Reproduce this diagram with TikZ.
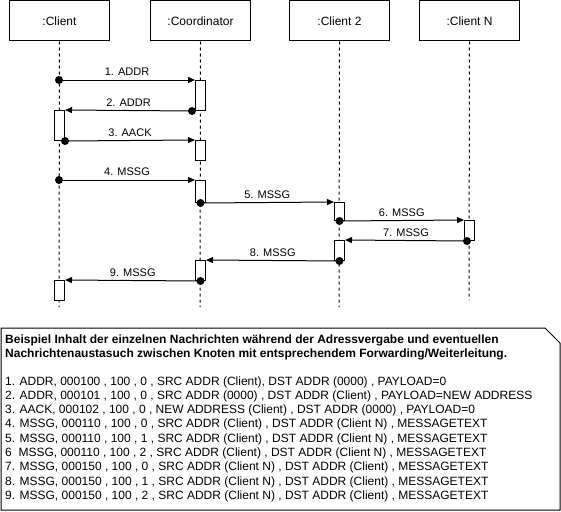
\documentclass[tikz,border=0pt]{standalone}
\usepackage{fontspec}
\setmainfont{Liberation Sans}
\usetikzlibrary{arrows.meta}
\begin{document}
\begin{tikzpicture}[x=1pt,y=-1pt,
  head/.style={draw,line width=1pt,minimum width=100pt,minimum height=40pt,inner sep=0pt,font=\fontsize{12}{14}\selectfont,anchor=north west},
  life/.style={line width=1pt,dash pattern=on 3pt off 3pt},
  act/.style={draw,fill=white,line width=1pt,minimum width=10pt,inner sep=0pt,anchor=north west},
  msg/.style={line width=1pt,-{Triangle[length=7pt,width=6pt]}},
  lbl/.style={font=\fontsize{11}{13}\selectfont,inner sep=0pt,yshift=8pt},
  dot/.style={fill=black}
]
\useasboundingbox (0,0) rectangle (561,511);
% headers
\node[head] (cl) at (9,0.5) {:Client};
\node[head] (co) at (150,0.5) {:Coordinator};
\node[head] (c2) at (289,0.5) {:Client 2};
\node[head] (cn) at (419,0.5) {:Client N};
% lifeline ends
\coordinate (clE) at (59,307);
\coordinate (coE) at (200,307);
\coordinate (c2E) at (339,307);
\coordinate (cnE) at (469,300);
\draw[life] (cl.south) -- (clE);
\draw[life] (co.south) -- (coE);
\draw[life] (c2.south) -- (c2E);
\draw[life] (cn.south) -- (cnE);
% activations
\node[act,minimum height=30pt] (A1) at (195,80) {};
\node[act,minimum height=30pt] (C1) at (54,110) {};
\node[act,minimum height=20pt] (A2) at (195,140) {};
\node[act,minimum height=22pt] (A3) at (195,180) {};
\node[act,minimum height=18pt] (B1) at (334,202) {};
\node[act,minimum height=20pt] (N1) at (464,220) {};
\node[act,minimum height=20pt] (B2) at (334,240) {};
\node[act,minimum height=20pt] (A4) at (195,260) {};
\node[act,minimum height=20pt] (C2) at (54,280) {};
% message start points
\coordinate (s1) at (59,80);
\coordinate (s2) at ([xshift=-3pt]A1.south west);
\coordinate (s3) at (C1.south east);
\coordinate (s4) at (59,180);
\coordinate (s5) at (A3.south);
\coordinate (s6) at (B1.south);
\coordinate (s7) at ([xshift=3pt]N1.south west);
\coordinate (s8) at (B2.south);
\coordinate (s9) at (A4.south);
% messages
\draw[msg] (s1) -- node[lbl]{1. ADDR} (A1.north west);
\draw[msg] (s2) -- node[lbl]{2. ADDR} (C1.north east);
\draw[msg] (s3) -- node[lbl]{3. AACK} (A2.north west);
\draw[msg] (s4) -- node[lbl]{4. MSSG} (A3.north west);
\draw[msg] (s5) -- node[lbl]{5. MSSG} (B1.north west);
\draw[msg] (s6) -- node[lbl]{6. MSSG} (N1.north west);
\draw[msg] (s7) -- node[lbl]{7. MSSG} (B2.north east);
\draw[msg] (s8) -- node[lbl]{8. MSSG} (A4.north east);
\draw[msg] (s9) -- node[lbl]{9. MSSG} (C2.north east);
\foreach \s in {s1,s2,s3,s4,s5,s6,s7,s8,s9} \fill[dot] (\s) circle (4pt);
% note
\draw[line width=1pt] (1,328) -- (545,328) -- (560,343) -- (560,510) -- (1,510) -- cycle;
\node[anchor=north west,inner sep=0pt,align=left,font=\fontsize{12}{14.3}\selectfont] (note) at (5,334.5) {%
\textbf{Beispiel Inhalt der einzelnen Nachrichten während der Adressvergabe und eventuellen}\\
\textbf{Nachrichtenaustasuch zwischen Knoten mit entsprechendem Forwarding/Weiterleitung.}\\[13pt]
1. ADDR, 000100 , 100 , 0 , SRC ADDR (Client), DST ADDR (0000) , PAYLOAD=0\\
2. ADDR, 000101 , 100 , 0 , SRC ADDR (0000) , DST ADDR (Client) , PAYLOAD=NEW ADDRESS\\
3. AACK, 000102 , 100 , 0 , NEW ADDRESS (Client) , DST ADDR (0000) , PAYLOAD=0\\
4. MSSG, 000110 , 100 , 0 , SRC ADDR (Client) , DST ADDR (Client N) , MESSAGETEXT\\
5. MSSG, 000110 , 100 , 1 , SRC ADDR (Client) , DST ADDR (Client N) , MESSAGETEXT\\
6\ \ MSSG, 000110 , 100 , 2 , SRC ADDR (Client) , DST ADDR (Client N) , MESSAGETEXT\\
7. MSSG, 000150 , 100 , 0 , SRC ADDR (Client N) , DST ADDR (Client) , MESSAGETEXT\\
8. MSSG, 000150 , 100 , 1 , SRC ADDR (Client N) , DST ADDR (Client) , MESSAGETEXT\\
9. MSSG, 000150 , 100 , 2 , SRC ADDR (Client N) , DST ADDR (Client) , MESSAGETEXT};
\end{tikzpicture}
\end{document}
